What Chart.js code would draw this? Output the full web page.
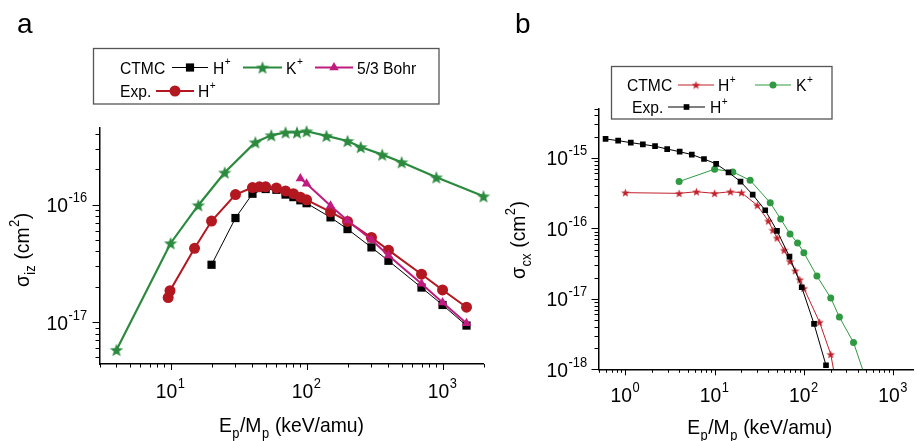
<!DOCTYPE html>
<html>
<head>
<meta charset="utf-8">
<script src="https://cdn.jsdelivr.net/npm/chart.js@4.4.1/dist/chart.umd.min.js"></script>
<style>
  html, body { margin: 0; padding: 0; background: #fff; }
  #wrap { position: relative; width: 917px; height: 441px; overflow: hidden; }
  canvas { position: absolute; top: 0; }
</style>
</head>
<body>
<div id="wrap">
  <canvas id="chartA" width="500" height="441" style="left:0"></canvas>
  <canvas id="chartB" width="417" height="441" style="left:500px"></canvas>
</div>
<script>
// ---- panel a : ionization, E/M in keV/amu, sigma in cm^2
const aCtmcH_E = [20, 30, 40, 50, 60, 70, 80, 90, 100, 150, 200, 300, 400, 700, 1000, 1500];
const aCtmcH_S = [3.08e-17, 7.7e-17, 1.24e-16, 1.36e-16, 1.34e-16, 1.22e-16, 1.16e-16, 1.09e-16, 1.03e-16,
                  7.8e-17, 6.2e-17, 4.33e-17, 3.33e-17, 1.97e-17, 1.4e-17, 9.35e-18];
const aCtmcK_E = [4, 10, 16, 25, 42, 55, 70, 85, 100, 140, 200, 250, 360, 500, 900, 2000];
const aCtmcK_S = [5.8e-18, 4.7e-17, 9.9e-17, 1.88e-16, 3.4e-16, 3.9e-16, 4.13e-16, 4.13e-16, 4.22e-16,
                  3.86e-16, 3.49e-16, 3.1e-16, 2.67e-16, 2.3e-16, 1.71e-16, 1.18e-16];
const aBohr_E = [90, 100, 150, 200, 300, 400, 700, 1000, 1500];
const aBohr_S = [1.67e-16, 1.51e-16, 9.8e-17, 7.35e-17, 5.04e-17, 3.7e-17, 2.12e-17, 1.47e-17, 9.8e-18];
const aExpH_E = [9.6, 9.9, 15, 20, 30, 40, 45, 50, 60, 70, 80, 90, 100, 150, 200, 300, 400, 700, 1000, 1500];
const aExpH_S = [1.62e-17, 1.85e-17, 4.25e-17, 7.26e-17, 1.22e-16, 1.4e-16, 1.42e-16, 1.42e-16, 1.39e-16,
                 1.31e-16, 1.24e-16, 1.16e-16, 1.1e-16, 8.7e-17, 7.2e-17, 5.26e-17, 4.1e-17, 2.56e-17,
                 1.88e-17, 1.34e-17];

// ---- panel b : charge exchange
const bCtmcH_E = [1, 4, 6.25, 10, 15, 20, 30, 40, 45, 50, 60, 70, 80, 90, 100, 150, 200, 300];
const bCtmcH_S = [3.2e-16, 3.13e-16, 3.3e-16, 3.13e-16, 3.3e-16, 3.2e-16, 2.12e-16, 1.27e-16, 9.4e-17,
                  7.3e-17, 4.9e-17, 3.4e-17, 2.5e-17, 1.87e-17, 1.41e-17, 4.65e-18, 1.63e-18, 1e-19];
const bCtmcK_E = [4, 10, 16, 25, 42, 55, 70, 85, 100, 140, 200, 250, 360, 500];
const bCtmcK_S = [4.6e-16, 6.9e-16, 6.3e-16, 4.8e-16, 2.3e-16, 1.35e-16, 8.3e-17, 6.2e-17, 4.5e-17,
                  2.1e-17, 1.03e-17, 5.5e-18, 2.4e-18, 7e-19];
const bExpH_E = [0.6, 0.83, 1.15, 1.57, 2.15, 2.94, 4.06, 5.55, 7.6, 10.4, 14.3, 19.5, 26.7, 36.9, 50,
                 69, 94.6, 130, 177];
const bExpH_S = [1.85e-15, 1.75e-15, 1.64e-15, 1.55e-15, 1.46e-15, 1.33e-15, 1.22e-15, 1.11e-15, 9.6e-16,
                 8.2e-16, 6.2e-16, 4.6e-16, 3.0e-16, 1.8e-16, 9.2e-17, 3.96e-17, 1.46e-17, 4.4e-18, 1.14e-18];

// tick label exponents (labels are drawn as 10^n)
const aXExp = [1, 2, 3];
const aYExp = [-17, -16];
const bXExp = [0, 1, 2, 3];
const bYExp = [-18, -17, -16, -15];

const FONT = "'Liberation Sans', Arial, Helvetica, sans-serif";
const SX = 0.92; // the figure's text is a bit condensed

function pts(xs, ys) {
  return xs.map(function (x, i) { return { x: x, y: ys[i] }; });
}

// log ticks 1..9 x 10^n, major on the decades
function logTicks(min, max) {
  const out = [];
  for (let n = Math.floor(Math.log10(min)); n <= Math.ceil(Math.log10(max)); n++) {
    for (let k = 1; k <= 9; k++) {
      const v = k * Math.pow(10, n);
      if (v >= min * 0.999999 && v <= max * 1.000001) out.push({ value: v, major: k === 1 });
    }
  }
  return out;
}

function starMarker(size, color) {
  const c = document.createElement("canvas");
  c.width = size; c.height = size;
  const g = c.getContext("2d");
  const cx = size / 2, cy = size / 2 + size * 0.05, R = size / 2, r = R * 0.42;
  g.fillStyle = color;
  g.beginPath();
  for (let i = 0; i < 10; i++) {
    const a = -Math.PI / 2 + i * Math.PI / 5;
    const rad = i % 2 ? r : R;
    g.lineTo(cx + rad * Math.cos(a), cy + rad * Math.sin(a));
  }
  g.closePath();
  g.fill();
  return c;
}

function series(label, xs, ys, color, style, radius, width, order, clip) {
  const ds = {
    label: label,
    data: pts(xs, ys),
    borderColor: color,
    backgroundColor: color,
    pointBackgroundColor: color,
    pointBorderColor: color,
    pointBorderWidth: 0,
    pointStyle: style,
    pointRadius: radius,
    pointHoverRadius: radius,
    borderWidth: width,
    showLine: true,
    tension: 0,
    order: order
  };
  if (clip === false) ds.clip = false;
  return ds;
}

// text with sub/superscripts: parts = [[text, 'sub'|'sup'|undefined], ...]
function richText(ctx, parts, x, y, size, align) {
  const small = Math.round(size * 0.65);
  let w = 0;
  const widths = parts.map(function (p) {
    ctx.font = (p[1] ? small : size) + "px " + FONT;
    const m = ctx.measureText(p[0]).width + (p[1] ? 1 : 0);
    w += m;
    return m;
  });
  const x0 = align === "right" ? x - w * SX : (align === "center" ? x - w * SX / 2 : x);
  ctx.save();
  ctx.translate(x0, y);
  ctx.scale(SX, 1);
  ctx.textAlign = "left";
  ctx.textBaseline = "alphabetic";
  let cx = 0;
  parts.forEach(function (p, i) {
    ctx.font = (p[1] ? small : size) + "px " + FONT;
    const dy = p[1] === "sup" ? -size * 0.48 : (p[1] === "sub" ? size * 0.3 : 0);
    ctx.fillText(p[0], cx + (p[1] ? 0.5 : 0), dy);
    cx += widths[i];
  });
  ctx.restore();
}

function drawMarker(ctx, ds, x, y) {
  const s = ds.pointStyle, r = ds.pointRadius;
  ctx.fillStyle = ds.pointBackgroundColor;
  if (typeof s !== "string") {
    ctx.drawImage(s, x - s.width / 2, y - s.height / 2);
    return;
  }
  ctx.beginPath();
  if (s === "rect") {
    const h = r * Math.SQRT1_2;
    ctx.rect(x - h, y - h, 2 * h, 2 * h);
  } else if (s === "triangle") {
    for (let i = 0; i < 3; i++) {
      const a = i * 2 * Math.PI / 3;
      ctx.lineTo(x + r * Math.sin(a), y - r * Math.cos(a));
    }
    ctx.closePath();
  } else {
    ctx.arc(x, y, r, 0, 2 * Math.PI);
  }
  ctx.fill();
}

function decorPlugin(p) {
  return {
    id: "decor",
    afterDraw: function (chart) {
      const ctx = chart.ctx, area = chart.chartArea;
      const xs = chart.scales.x, ys = chart.scales.y;
      ctx.save();
      ctx.strokeStyle = "#000";
      ctx.fillStyle = "#000";
      ctx.lineWidth = 1;

      // tick marks (outside)
      xs.ticks.forEach(function (t) {
        const px = Math.round(xs.getPixelForValue(t.value)) + 0.5;
        if (px > area.right + 1) return;
        ctx.beginPath();
        ctx.moveTo(px, area.bottom);
        ctx.lineTo(px, area.bottom + (t.major ? 6 : 3.5));
        ctx.stroke();
      });
      ys.ticks.forEach(function (t) {
        const py = Math.round(ys.getPixelForValue(t.value)) + 0.5;
        ctx.beginPath();
        ctx.moveTo(area.left, py);
        ctx.lineTo(area.left - (t.major ? 7 : 4), py);
        ctx.stroke();
      });

      // tick labels
      p.xExp.forEach(function (e) {
        const px = xs.getPixelForValue(Math.pow(10, e));
        richText(ctx, [["10"], [String(e), "sup"]], px, area.bottom + p.xLabelDy, 21, "center");
      });
      p.yExp.forEach(function (e) {
        const py = ys.getPixelForValue(Math.pow(10, e));
        richText(ctx, [["10"], [String(e), "sup"]], area.left - p.yLabelDx, py + 7.5, 21, "right");
      });

      // axis titles
      richText(ctx, [["E"], ["p", "sub"], ["/M"], ["p", "sub"], [" (keV/amu)"]],
        (area.left + area.right) / 2 + p.xTitleDx, p.xTitleY, 21, "center");
      ctx.save();
      ctx.translate(p.yTitleX, p.yTitleY);
      ctx.rotate(-Math.PI / 2);
      richText(ctx, [["\u03c3"], [p.ySub, "sub"], [" (cm"], ["2", "sup"], [")"]], 0, 0, 21, "center");
      ctx.restore();

      // panel letter
      ctx.font = "28px " + FONT;
      ctx.textAlign = "left";
      ctx.textBaseline = "alphabetic";
      ctx.fillText(p.letter, p.letterX, 33);

      // legend box
      const L = p.legend;
      ctx.strokeStyle = "#555";
      ctx.lineWidth = 1.3;
      ctx.fillStyle = "#fff";
      ctx.fillRect(L.box[0], L.box[1], L.box[2], L.box[3]);
      ctx.strokeRect(L.box[0], L.box[1], L.box[2], L.box[3]);
      L.rows.forEach(function (row) {
        row.items.forEach(function (it) {
          if (it.ds !== undefined) {
            const ds = chart.data.datasets[it.ds];
            ctx.strokeStyle = ds.borderColor;
            ctx.lineWidth = ds.borderWidth;
            ctx.beginPath();
            ctx.moveTo(it.x1, row.y);
            ctx.lineTo(it.x2, row.y);
            ctx.stroke();
            drawMarker(ctx, ds, (it.x1 + it.x2) / 2, row.y);
          } else {
            ctx.fillStyle = "#000";
            const parts = it.sup ? [[it.text], [it.sup, "sup"]] : [[it.text]];
            richText(ctx, parts, it.x, row.y + 6, 17, "left");
          }
        });
      });
      ctx.restore();
    }
  };
}

function chartOptions(p) {
  return {
    responsive: false,
    animation: false,
    events: [],
    layout: { padding: p.pad },
    plugins: { legend: { display: false }, tooltip: { enabled: false } },
    scales: {
      x: {
        type: "logarithmic", min: p.xMin, max: p.xMax,
        grid: { display: false },
        border: { display: true, color: "#000", width: 1.5 },
        ticks: { display: false, autoSkip: false },
        afterBuildTicks: function (s) { s.ticks = logTicks(p.xMin, p.xMax); },
        afterFit: function (s) { s.height = 0; }
      },
      y: {
        type: "logarithmic", min: p.yMin, max: p.yMax,
        grid: { display: false },
        border: { display: true, color: "#000", width: 1.5 },
        ticks: { display: false, autoSkip: false },
        afterBuildTicks: function (s) { s.ticks = logTicks(p.yMin, p.yMax); },
        afterFit: function (s) { s.width = 0; }
      }
    }
  };
}

// ---- panel a
const GREEN_A = "#2b8a3e", RED_A = "#b3171f", MAG_A = "#c01b7e";
const panelA = {
  xMin: 3, xMax: 2000, yMin: 4.4e-18, yMax: 4.5e-16,
  pad: { left: 99.5, top: 128, right: 16.5, bottom: 77 },
  xExp: aXExp, yExp: aYExp, xLabelDy: 34, yLabelDx: 12,
  xTitleDx: 0, xTitleY: 432, yTitleX: 29, yTitleY: 250, ySub: "iz",
  letter: "a", letterX: 17,
  legend: {
    box: [93.5, 48.5, 345.5, 55.5],
    rows: [
      { y: 67.5, items: [
        { text: "CTMC", x: 120 }, { ds: 0, x1: 172, x2: 208 }, { text: "H", sup: "+", x: 213 },
        { ds: 1, x1: 243, x2: 282 }, { text: "K", sup: "+", x: 286 },
        { ds: 2, x1: 315, x2: 353 }, { text: "5/3 Bohr", x: 357 }
      ] },
      { y: 91, items: [
        { text: "Exp.", x: 120 }, { ds: 3, x1: 156, x2: 194 }, { text: "H", sup: "+", x: 198 }
      ] }
    ]
  }
};

new Chart(document.getElementById("chartA"), {
  type: "scatter",
  data: {
    datasets: [
      series("CTMC H+", aCtmcH_E, aCtmcH_S, "#000", "rect", 5.8, 1, 3, false),
      series("CTMC K+", aCtmcK_E, aCtmcK_S, GREEN_A, starMarker(14, GREEN_A), 6, 2.2, 4, false),
      series("5/3 Bohr", aBohr_E, aBohr_S, MAG_A, "triangle", 5.5, 2, 1, false),
      series("Exp. H+", aExpH_E, aExpH_S, RED_A, "circle", 5.5, 2, 2, false)
    ]
  },
  options: chartOptions(panelA),
  plugins: [decorPlugin(panelA)]
});

// ---- panel b
const GREEN_B = "#2f9a41", RED_B = "#c0212b";
const panelB = {
  xMin: 0.5, xMax: 1670, yMin: 1e-18, yMax: 5e-15,
  pad: { left: 98.5, top: 108.5, right: 0, bottom: 71.7 },
  xExp: bXExp, yExp: bYExp, xLabelDy: 33, yLabelDx: 11,
  xTitleDx: 4, xTitleY: 434, yTitleX: 25, yTitleY: 240, ySub: "cx",
  letter: "b", letterX: 15,
  legend: {
    box: [111.5, 66.5, 220.5, 52.5],
    rows: [
      { y: 85, items: [
        { text: "CTMC", x: 127 }, { ds: 0, x1: 178, x2: 214 }, { text: "H", sup: "+", x: 218 },
        { ds: 1, x1: 255, x2: 291 }, { text: "K", sup: "+", x: 296 }
      ] },
      { y: 107, items: [
        { text: "Exp.", x: 132 }, { ds: 2, x1: 168, x2: 205 }, { text: "H", sup: "+", x: 210 }
      ] }
    ]
  }
};

new Chart(document.getElementById("chartB"), {
  type: "scatter",
  data: {
    datasets: [
      series("CTMC H+", bCtmcH_E, bCtmcH_S, RED_B, starMarker(9, RED_B), 4, 1, 2),
      series("CTMC K+", bCtmcK_E, bCtmcK_S, GREEN_B, "circle", 3.5, 1, 3),
      series("Exp. H+", bExpH_E, bExpH_S, "#000", "rect", 4, 1, 1)
    ]
  },
  options: chartOptions(panelB),
  plugins: [decorPlugin(panelB)]
});
</script>
</body>
</html>
